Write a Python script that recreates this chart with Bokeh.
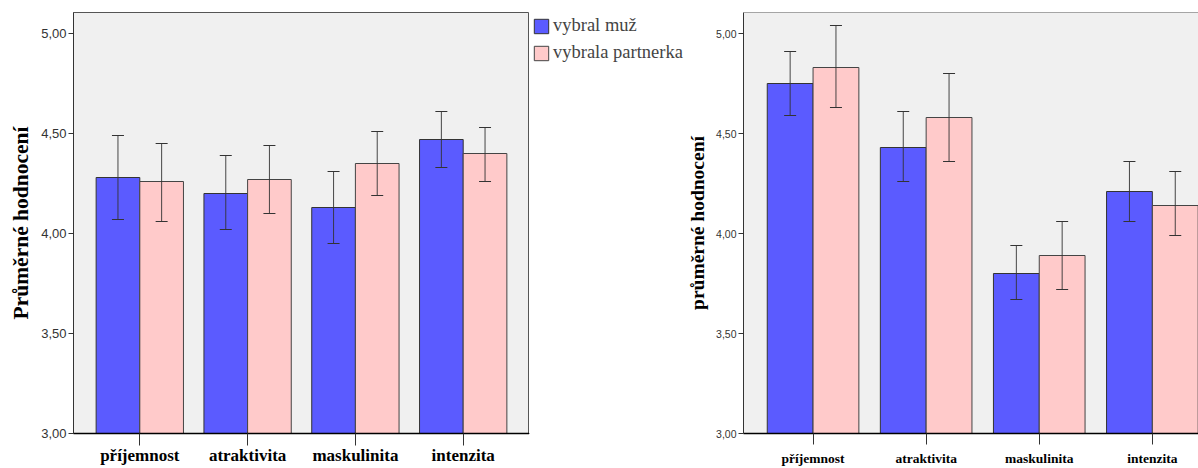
from bokeh.plotting import figure
from bokeh.models import (ColumnDataSource, FixedTicker, Range1d, Whisker, TeeHead,
                          Legend, LegendItem, Span)
from bokeh.layouts import row
from bokeh.embed import file_html
from bokeh.resources import INLINE

categories = ["příjemnost", "atraktivita", "maskulinita", "intenzita"]
series_names = ["vybral muž", "vybrala partnerka"]

left_muz = [4.28, 4.20, 4.13, 4.47]
left_muz_lo = [4.07, 4.02, 3.95, 4.33]
left_muz_hi = [4.49, 4.39, 4.31, 4.61]
left_par = [4.26, 4.27, 4.35, 4.40]
left_par_lo = [4.06, 4.10, 4.19, 4.26]
left_par_hi = [4.45, 4.44, 4.51, 4.53]

right_muz = [4.75, 4.43, 3.80, 4.21]
right_muz_lo = [4.59, 4.26, 3.67, 4.06]
right_muz_hi = [4.91, 4.61, 3.94, 4.36]
right_par = [4.83, 4.58, 3.89, 4.14]
right_par_lo = [4.63, 4.36, 3.72, 3.99]
right_par_hi = [5.04, 4.80, 4.06, 4.31]

y_ticks = [3.0, 3.5, 4.0, 4.5, 5.0]
y_tick_labels = ["3,00", "3,50", "4,00", "4,50", "5,00"]

BLUE = "#5B5BFF"
PINK = "#FFCACA"
BAR_W = 0.405
SERIF = "Liberation Serif"
SANS = "Liberation Sans"
TOP = 12
BOTTOM = 32


def make_panel(width, border_left, x_end, muz, muz_lo, muz_hi, par, par_lo, par_hi,
               ylabel, ylabel_size, tick_size, xlab_size, xtick_out, xlab_standoff,
               right_outline=True):
    p = figure(width=width, height=468, output_backend="svg", toolbar_location=None,
               x_range=Range1d(-0.615, x_end), y_range=Range1d(3.0, 5.105),
               min_border_left=border_left, min_border_right=0,
               min_border_top=TOP, min_border_bottom=BOTTOM)
    p.background_fill_color = "#F0F0F0"
    p.border_fill_color = "white"
    p.grid.visible = False
    if right_outline:
        p.outline_line_color = "#555555"
        p.outline_line_width = 1
    else:
        p.outline_line_color = None
        p.add_layout(Span(location=5.105, dimension="width", line_color="#555555",
                          line_width=1))

    xs = list(range(len(categories)))
    src_m = ColumnDataSource(dict(x=[x - BAR_W / 2 for x in xs], top=muz, lo=muz_lo, hi=muz_hi))
    src_p = ColumnDataSource(dict(x=[x + BAR_W / 2 for x in xs], top=par, lo=par_lo, hi=par_hi))
    p.vbar(x="x", top="top", bottom=3.0, width=BAR_W, source=src_m,
           fill_color=BLUE, line_color="#333333", line_width=1)
    p.vbar(x="x", top="top", bottom=3.0, width=BAR_W, source=src_p,
           fill_color=PINK, line_color="#444444", line_width=1)
    for src in (src_m, src_p):
        w = Whisker(base="x", upper="hi", lower="lo", source=src, level="overlay",
                    line_color="#333333", line_width=1, line_alpha=0.9,
                    upper_head=TeeHead(size=12, line_color="#333333", line_width=1),
                    lower_head=TeeHead(size=12, line_color="#333333", line_width=1))
        p.add_layout(w)

    ya = p.yaxis[0]
    ya.ticker = FixedTicker(ticks=y_ticks)
    ya.major_label_overrides = {t: l for t, l in zip(y_ticks, y_tick_labels)}
    ya.major_label_text_font = SANS
    ya.major_label_text_font_size = tick_size
    ya.major_label_text_color = "#333333"
    ya.major_tick_out = 5
    ya.major_tick_in = 0
    ya.minor_tick_line_color = None
    ya.axis_line_color = "#333333"
    ya.major_tick_line_color = "#333333"
    ya.major_label_standoff = 2
    ya.axis_label = ylabel
    ya.axis_label_text_font = SERIF
    ya.axis_label_text_font_style = "bold"
    ya.axis_label_text_font_size = ylabel_size
    ya.axis_label_text_color = "black"

    xa = p.xaxis[0]
    xa.ticker = FixedTicker(ticks=xs)
    xa.major_label_overrides = {i: c for i, c in enumerate(categories)}
    xa.major_label_text_font = SERIF
    xa.major_label_text_font_style = "bold"
    xa.major_label_text_font_size = xlab_size
    xa.major_label_text_color = "black"
    xa.major_tick_out = xtick_out
    xa.major_tick_in = 0
    xa.minor_tick_line_color = None
    xa.axis_line_color = "black"
    xa.axis_line_width = 1.5
    xa.major_tick_line_color = "#333333"
    xa.major_label_standoff = xlab_standoff
    return p


left = make_panel(529, 73, 3.615,
                  left_muz, left_muz_lo, left_muz_hi, left_par, left_par_lo, left_par_hi,
                  "Průměrné hodnocení", "21.5px", "13px", "17px", 12, 0)

# legend panel (between the two charts)
leg = figure(width=155, height=468, output_backend="svg", toolbar_location=None,
             x_axis_type=None, y_axis_type=None, x_range=Range1d(0, 1), y_range=Range1d(0, 1),
             min_border_left=0, min_border_top=TOP, min_border_right=0,
             min_border_bottom=BOTTOM)
leg.outline_line_color = None
leg.grid.visible = False
dummy = ColumnDataSource(dict(x=[-5.0], top=[-4.0]))
g1 = leg.vbar(x="x", top="top", bottom=-5.0, width=0.1, source=dummy,
              fill_color=BLUE, line_color="#333333")
g2 = leg.vbar(x="x", top="top", bottom=-5.0, width=0.1, source=dummy,
              fill_color=PINK, line_color="#444444")
lg = Legend(items=[LegendItem(label=series_names[0], renderers=[g1]),
                   LegendItem(label=series_names[1], renderers=[g2])],
            location="top_left", margin=3, padding=0, spacing=6,
            glyph_width=18, glyph_height=18, label_standoff=3,
            label_text_font=SERIF, label_text_font_size="18.5px",
            label_height=18, border_line_color=None, background_fill_alpha=0)
leg.add_layout(lg)

right = make_panel(514, 54, 3.408,
                   right_muz, right_muz_lo, right_muz_hi, right_par, right_par_lo, right_par_hi,
                   "průměrné hodnocení", "19.5px", "10.5px", "13.5px", 11, 6,
                   right_outline=False)

layout = row(left, leg, right)
open("out.html", "w").write(file_html(layout, INLINE))
